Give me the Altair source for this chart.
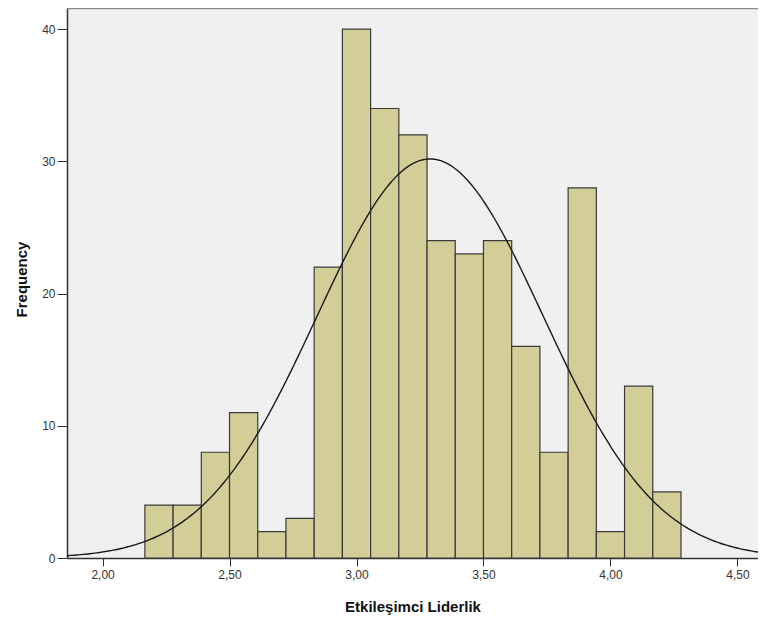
import altair as alt
import numpy as np
import pandas as pd

# Histogram bins (SPSS-style), bin width 1/9 starting at 2.1667
bin_start0 = 2.16667
bin_width = 1.0 / 9.0
counts = [4, 4, 8, 11, 2, 3, 22, 40, 34, 32, 24, 23, 24, 16, 8, 28, 2, 13, 5]

# Normal curve parameters
curve_mean = 3.29
curve_sd = 0.445
n_total = sum(counts)

x_ticks = [2.0, 2.5, 3.0, 3.5, 4.0, 4.5]
y_ticks = [0, 10, 20, 30, 40]
x_domain = [1.86, 4.581]
y_domain = [0, 41.6]

starts = [bin_start0 + i * bin_width for i in range(len(counts))]
bars_df = pd.DataFrame({
    "start": starts,
    "end": [s + bin_width for s in starts],
    "count": counts,
})

xs = np.linspace(x_domain[0], x_domain[1], 300)
ys = n_total * bin_width / (curve_sd * np.sqrt(2 * np.pi)) * np.exp(-0.5 * ((xs - curve_mean) / curve_sd) ** 2)
curve_df = pd.DataFrame({"x": xs, "y": ys})

FONT = "Liberation Sans"
W, H = 691, 550

x_scale = alt.Scale(domain=x_domain, nice=False, zero=False)
y_scale = alt.Scale(domain=y_domain, nice=False)

x_axis = alt.Axis(
    title="Etkileşimci Liderlik",
    values=x_ticks,
    labelExpr="replace(format(datum.value, '.2f'), '.', ',')",
    grid=False,
    tickSize=8,
    tickColor="#333333",
    domainColor="#333333",
    domainWidth=1.5,
    labelPadding=3,
    labelFontSize=12,
    labelColor="#333333",
    labelFont=FONT,
    titleFont=FONT,
    titleFontSize=15,
    titleFontWeight="bold",
    titleColor="#111111",
    titleY=48,
    titleBaseline="middle",
)

y_axis = alt.Axis(
    title="Frequency",
    values=y_ticks,
    format="d",
    grid=False,
    tickSize=10,
    tickColor="#333333",
    domainColor="#333333",
    domainWidth=1.5,
    labelPadding=2,
    labelFontSize=12,
    labelColor="#333333",
    labelFont=FONT,
    titleFont=FONT,
    titleFontSize=15,
    titleFontWeight="bold",
    titleColor="#111111",
    titleAngle=270,
    titleX=-46,
    titleY=271,
    titleAlign="center",
    titleBaseline="middle",
)

bars = alt.Chart(bars_df).mark_rect(
    fill="#D3CE97", stroke="#3a3a3a", strokeWidth=1.2
).encode(
    x=alt.X("start:Q", scale=x_scale, axis=x_axis),
    x2="end:Q",
    y=alt.Y("count:Q", scale=y_scale, axis=y_axis),
    y2=alt.datum(0),
)

curve = alt.Chart(curve_df).mark_line(
    color="#1a1a1a", strokeWidth=1.4
).encode(
    x=alt.X("x:Q", scale=x_scale),
    y=alt.Y("y:Q", scale=y_scale),
)

top_border = alt.Chart(pd.DataFrame({"k": [0]})).mark_rule(
    color="#8a8a8a", strokeWidth=1.5
).encode(
    x=alt.value(0), x2=alt.value(W), y=alt.value(0.5)
)

chart = alt.layer(bars, curve, top_border).properties(
    width=W,
    height=H,
    autosize=alt.AutoSizeParams(type="none"),
    padding={"left": 59, "top": 0, "right": 0, "bottom": 62},
    background="white",
).configure_view(
    fill="#F0F0F0",
    strokeWidth=0,
)

chart.save("out.html", embed_options={"renderer": "svg", "actions": False})
